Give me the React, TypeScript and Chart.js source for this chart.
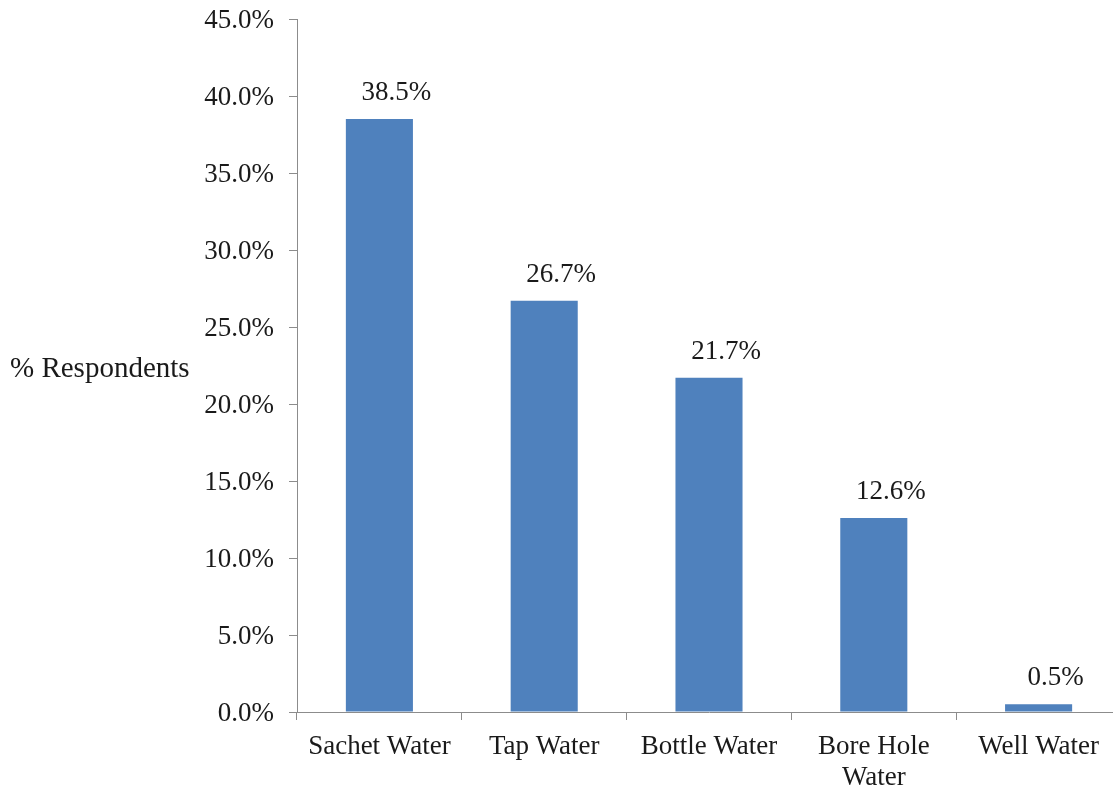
import { useEffect, useRef } from "react";
import { Chart, registerables } from "chart.js";

Chart.register(...registerables);

// Water sources and share of respondents (%)
const categories: (string | string[])[] = [
  "Sachet Water",
  "Tap Water",
  "Bottle Water",
  ["Bore Hole", "Water"],
  "Well Water",
];
const respondents = [38.5, 26.7, 21.7, 12.6, 0.5];
const yMin = 0;
const yMax = 45;
const yStep = 5;
const axisTitle = "% Respondents";

const FONT = "'Liberation Serif', 'Times New Roman', serif";
const BAR_COLOR = "#4F81BD";
const AXIS_COLOR = "#8C8C8C";
const TEXT_COLOR = "#1a1a1a";

const CANVAS_W = 1125;
const CANVAS_H = 795;
const PLOT_LEFT = 297;
const PLOT_TOP = 19;
const PLOT_BOTTOM = 712;

const fmt = (v: number) => v.toFixed(1) + "%";

const annotations = {
  id: "annotations",
  afterDatasetsDraw(chart: Chart) {
    const { ctx, chartArea } = chart;
    ctx.save();
    ctx.fillStyle = TEXT_COLOR;
    ctx.font = `27px ${FONT}`;
    ctx.textAlign = "center";
    ctx.textBaseline = "alphabetic";
    const meta = chart.getDatasetMeta(0);
    meta.data.forEach((bar: any, i: number) => {
      ctx.fillText(fmt(respondents[i]), bar.x + 17, bar.y - 19);
    });
    // horizontal axis title at the left
    ctx.textAlign = "left";
    ctx.textBaseline = "middle";
    ctx.font = `29px ${FONT}`;
    ctx.fillText(axisTitle, 10, (chartArea.top + chartArea.bottom) / 2 + 4);
    ctx.restore();
  },
};

export default function App() {
  const ref = useRef<HTMLCanvasElement | null>(null);

  useEffect(() => {
    const canvas = ref.current;
    if (!canvas) return;
    const chart = new Chart(canvas, {
      type: "bar",
      data: {
        labels: categories,
        datasets: [
          {
            data: respondents,
            backgroundColor: BAR_COLOR,
            borderWidth: 0,
            barPercentage: 0.407,
            categoryPercentage: 1,
          },
        ],
      },
      options: {
        responsive: false,
        animation: false,
        devicePixelRatio: 1,
        layout: { padding: { top: PLOT_TOP, right: 4, bottom: 0, left: 0 } },
        plugins: {
          legend: { display: false },
          tooltip: { enabled: false },
          title: { display: false },
        },
        scales: {
          x: {
            grid: {
              display: true,
              drawOnChartArea: false,
              drawTicks: true,
              tickLength: 8,
              color: AXIS_COLOR,
              offset: true,
            },
            border: { display: true, color: AXIS_COLOR, width: 1 },
            ticks: {
              color: TEXT_COLOR,
              font: { family: FONT, size: 27, lineHeight: 1.17 },
              padding: 11,
              maxRotation: 0,
              autoSkip: false,
            },
            afterFit(scale: any) {
              scale.height = CANVAS_H - PLOT_BOTTOM;
              scale.paddingLeft = 0;
              scale.paddingRight = 0;
            },
          },
          y: {
            min: yMin,
            max: yMax,
            grid: {
              display: true,
              drawOnChartArea: false,
              drawTicks: true,
              tickLength: 8,
              color: AXIS_COLOR,
            },
            border: { display: true, color: AXIS_COLOR, width: 1 },
            ticks: {
              stepSize: yStep,
              color: TEXT_COLOR,
              font: { family: FONT, size: 27 },
              padding: 15,
              labelOffset: 2,
              callback: (v: any) => fmt(Number(v)),
            },
            afterFit(scale: any) {
              scale.width = PLOT_LEFT;
              scale.paddingTop = 0;
              scale.paddingBottom = 0;
            },
          },
        },
      },
      plugins: [annotations],
    });
    return () => chart.destroy();
  }, []);

  return (
    <div
      style={{
        position: "fixed",
        left: 0,
        top: 0,
        width: 1113,
        height: 795,
        overflow: "hidden",
        background: "#fff",
      }}
    >
      <canvas ref={ref} width={CANVAS_W} height={CANVAS_H} style={{ display: "block" }} />
    </div>
  );
}
